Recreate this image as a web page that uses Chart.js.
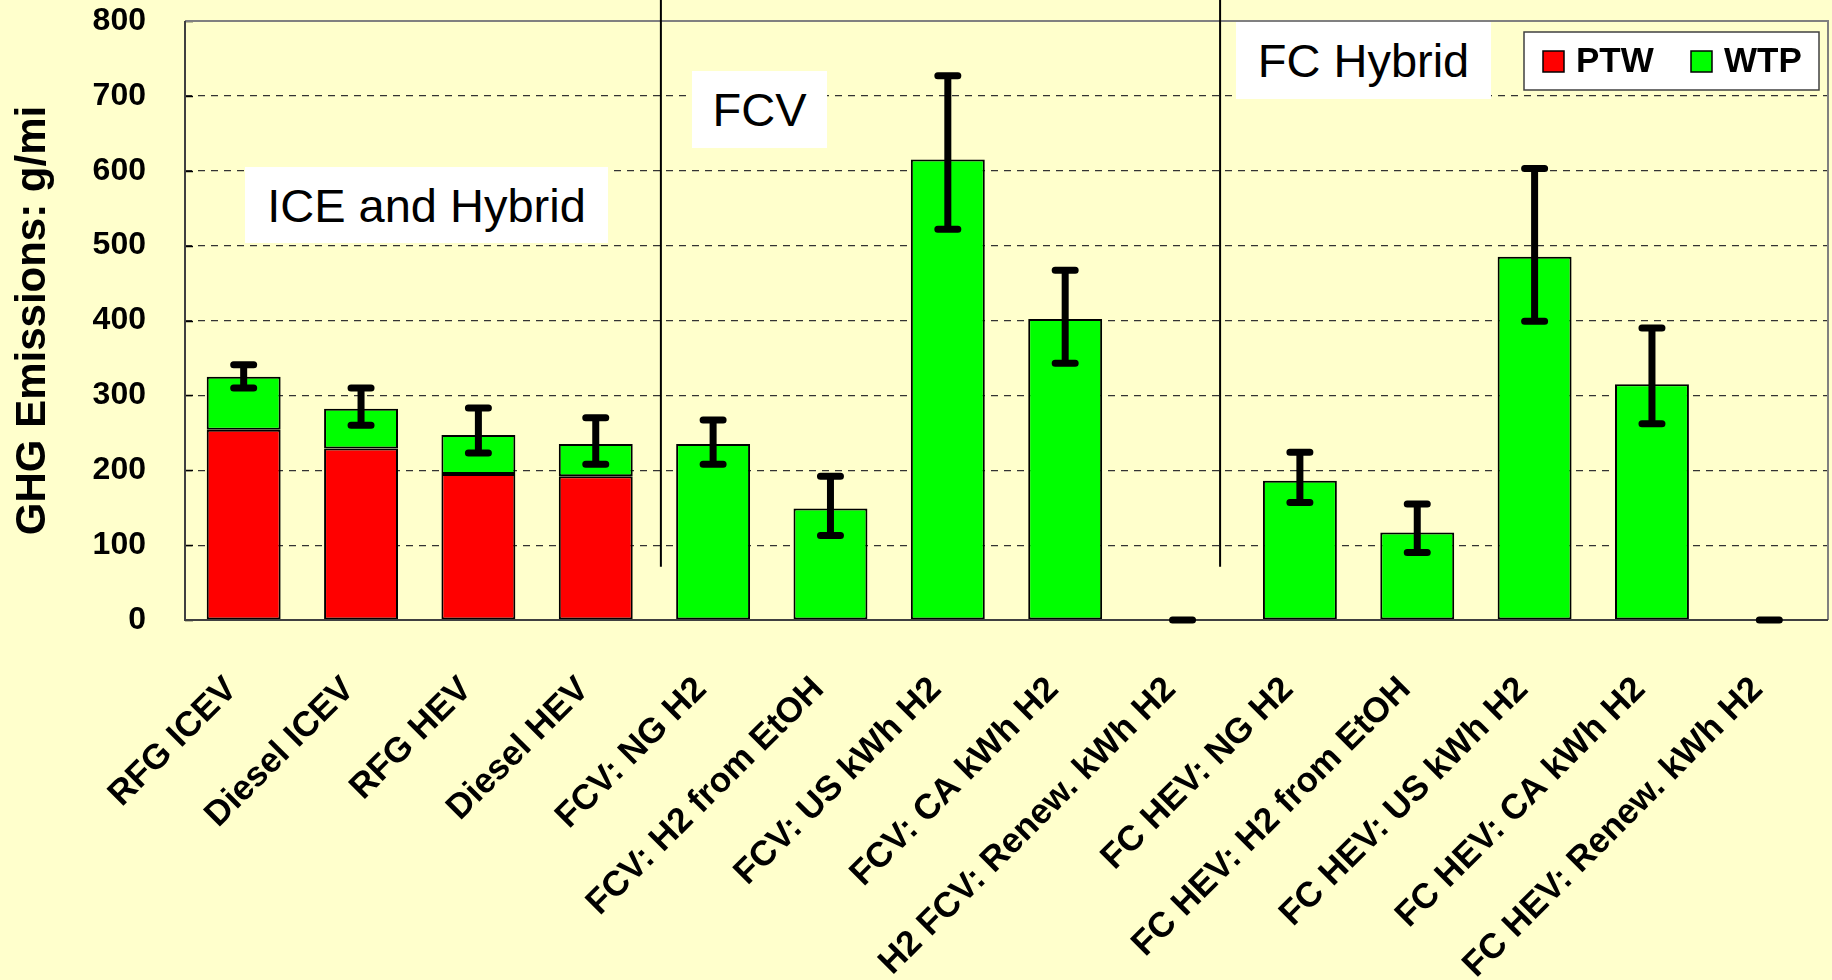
<!DOCTYPE html>
<html>
<head>
<meta charset="utf-8">
<script src="https://cdn.jsdelivr.net/npm/chart.js@4.4.0/dist/chart.umd.min.js"></script>
<style>
html,body{margin:0;padding:0;background:#FFFFCC;}
#wrap{position:relative;width:1832px;height:980px;overflow:hidden;}
canvas{display:block;}
.note{position:absolute;background:#ffffff;font-family:"Liberation Sans",Arial,sans-serif;font-size:47px;color:#000;display:flex;align-items:center;justify-content:center;white-space:nowrap;}
</style>
</head>
<body>
<div id="wrap">
<canvas id="c" width="1832" height="980"></canvas>
<div class="note" style="left:245px;top:167px;width:363px;height:76px;">ICE and Hybrid</div>
<div class="note" style="left:692px;top:71px;width:135px;height:77px;">FCV</div>
<div class="note" style="left:1236px;top:22px;width:255px;height:77px;">FC Hybrid</div>
</div>
<script>
// ---- data ----
const categories = [
  "RFG ICEV", "Diesel ICEV", "RFG HEV", "Diesel HEV",
  "FCV: NG H2", "FCV: H2 from EtOH", "FCV: US kWh H2", "FCV: CA kWh H2", "H2 FCV: Renew. kWh H2",
  "FC HEV: NG H2", "FC HEV: H2 from EtOH", "FC HEV: US kWh H2", "FC HEV: CA kWh H2", "FC HEV: Renew. kWh H2"
];
const ptwValues = [254, 229, 195, 192, 0, 0, 0, 0, 0, 0, 0, 0, 0, 0];
const wtpValues = [71, 53, 52, 43, 235, 149, 615, 402, 0, 186, 117, 485, 315, 0];
const errLow  = [310, 260, 223, 208, 208, 113, 522, 343, 0, 157, 90, 399, 262, 0];
const errHigh = [341, 310, 283, 270, 267, 192, 727, 467, 0, 224, 155, 603, 390, 0];
const yTicks = [0, 100, 200, 300, 400, 500, 600, 700, 800];
const seriesNames = ["PTW", "WTP"];
const dividerPositions = [3.555, 8.32];   // category-index positions of the group separators
const dividerBottomValue = 71;

const FONT = '"Liberation Sans", Arial, sans-serif';

const overlay = {
  id: 'overlay',
  beforeDraw(chart) {
    const {ctx, width, height} = chart;
    ctx.save();
    ctx.fillStyle = '#FFFFCC';
    ctx.fillRect(0, 0, width, height);
    ctx.restore();
  },
  beforeDatasetsDraw(chart) {
    const {ctx, chartArea: a, scales: {y}} = chart;
    ctx.save();
    ctx.strokeStyle = '#000';
    ctx.lineWidth = 1.5;
    yTicks.forEach(v => {
      const py = Math.round(y.getPixelForValue(v)) + 0.5;
      ctx.beginPath();
      ctx.moveTo(a.left, py);
      ctx.lineTo(a.left + 8, py);
      ctx.stroke();
    });
    ctx.restore();
  },
  afterDatasetsDraw(chart) {
    const {ctx, chartArea: a, scales: {x, y}} = chart;
    ctx.save();
    // plot border
    ctx.strokeStyle = '#808080';
    ctx.lineWidth = 2;
    ctx.beginPath();
    ctx.moveTo(a.left, a.top); ctx.lineTo(a.right, a.top); ctx.lineTo(a.right, a.bottom);
    ctx.stroke();
    ctx.strokeStyle = '#404040';
    ctx.beginPath();
    ctx.moveTo(a.left, a.top); ctx.lineTo(a.left, a.bottom); ctx.lineTo(a.right, a.bottom);
    ctx.stroke();

    // error bars
    ctx.strokeStyle = '#000';
    ctx.lineWidth = 7;
    ctx.lineCap = 'round';
    categories.forEach((c, i) => {
      const px = x.getPixelForValue(i);
      const y1 = y.getPixelForValue(errLow[i]);
      const y2 = y.getPixelForValue(errHigh[i]);
      ctx.beginPath();
      ctx.moveTo(px, y1); ctx.lineTo(px, y2);
      ctx.moveTo(px - 10, y1); ctx.lineTo(px + 10, y1);
      ctx.moveTo(px - 10, y2); ctx.lineTo(px + 10, y2);
      ctx.stroke();
    });

    // group dividers
    ctx.lineCap = 'butt';
    ctx.lineWidth = 2;
    dividerPositions.forEach(p => {
      const px = x.getPixelForValue(p);
      ctx.beginPath();
      ctx.moveTo(px, 0);
      ctx.lineTo(px, y.getPixelForValue(dividerBottomValue));
      ctx.stroke();
    });

    // legend
    const bw = 295, bh = 58;
    const bx = a.right - 9 - bw, by = a.top + 11;
    ctx.fillStyle = '#fff';
    ctx.fillRect(bx, by, bw, bh);
    ctx.strokeStyle = '#404040';
    ctx.lineWidth = 1.5;
    ctx.strokeRect(bx, by, bw, bh);
    const offs = [19, 167];
    chart.data.datasets.forEach((d, i) => {
      const sx = bx + offs[i], sy = by + 19;
      ctx.fillStyle = d.backgroundColor;
      ctx.fillRect(sx, sy, 21, 21);
      ctx.strokeStyle = '#000';
      ctx.lineWidth = 1.5;
      ctx.strokeRect(sx, sy, 21, 21);
      ctx.fillStyle = '#000';
      ctx.font = 'bold 35px ' + FONT;
      ctx.textBaseline = 'middle';
      ctx.textAlign = 'left';
      ctx.fillText(d.label, sx + 33, sy + 11);
    });
    ctx.restore();
  }
};

new Chart(document.getElementById('c'), {
  type: 'bar',
  data: {
    labels: categories,
    datasets: [
      { label: seriesNames[0], data: ptwValues, backgroundColor: '#FF0000', borderColor: '#000', borderWidth: 2, borderSkipped: false },
      { label: seriesNames[1], data: wtpValues, backgroundColor: '#00FF00', borderColor: '#000', borderWidth: 2, borderSkipped: false }
    ]
  },
  options: {
    responsive: false,
    animation: false,
    layout: { padding: { top: 21, right: 4, left: 0, bottom: 0 } },
    datasets: { bar: { barPercentage: 0.63, categoryPercentage: 1 } },
    plugins: { legend: { display: false }, tooltip: { enabled: false } },
    scales: {
      x: {
        stacked: true,
        grid: { display: false },
        border: { display: false },
        afterFit(s) { s.height = 360; s.paddingTop = 0; s.paddingBottom = 0; s.paddingLeft = 0; s.paddingRight = 0; },
        ticks: {
          autoSkip: false, minRotation: 45, maxRotation: 45,
          color: '#000', padding: 41, labelOffset: -12,
          font: { family: FONT, size: 35, weight: 'bold' }
        }
      },
      y: {
        stacked: true,
        min: 0, max: 800,
        afterFit(s) { s.width = 185; s.paddingTop = 0; s.paddingBottom = 0; },
        afterBuildTicks(s) { s.ticks = yTicks.map(v => ({ value: v })); },
        grid: {
          drawTicks: false,
          color: ctx => (ctx.tick && (ctx.tick.value === 0 || ctx.tick.value === 800)) ? 'rgba(0,0,0,0)' : '#333',
          lineWidth: 1.2
        },
        border: { display: false, dash: [7, 6] },
        ticks: {
          color: '#000', padding: 39,
          font: { family: FONT, size: 32, weight: 'bold' }
        },
        title: {
          display: true, text: 'GHG Emissions: g/mi', color: '#000',
          font: { family: FONT, size: 42, weight: 'bold' },
          padding: { top: 8, bottom: 0 }
        }
      }
    }
  },
  plugins: [overlay]
});
</script>
</body>
</html>
